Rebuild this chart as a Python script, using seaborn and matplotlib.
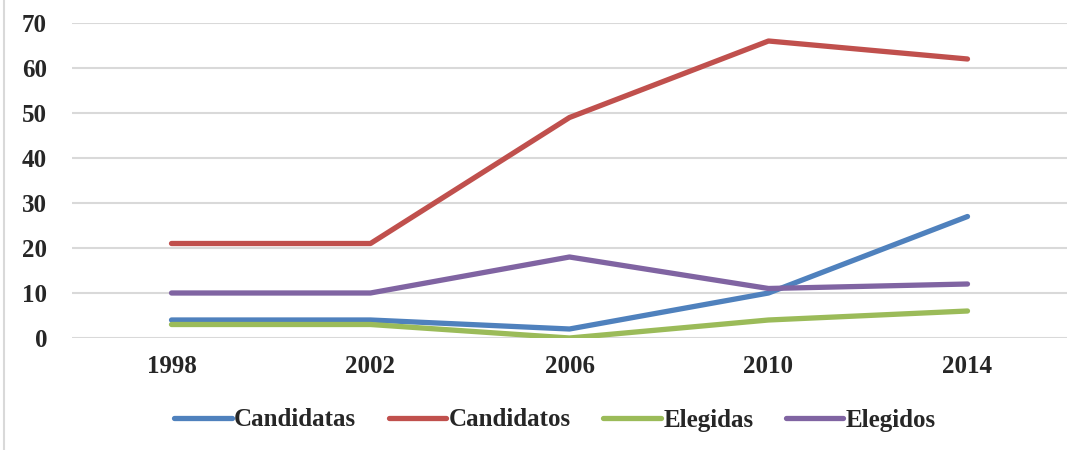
import pandas as pd
import matplotlib
matplotlib.use("Agg")
import matplotlib.pyplot as plt
from matplotlib.lines import Line2D
import seaborn as sns

years = ["1998", "2002", "2006", "2010", "2014"]
candidatas = [4, 4, 2, 10, 27]
candidatos = [21, 21, 49, 66, 62]
elegidas = [3, 3, 0, 4, 6]
elegidos = [10, 10, 18, 11, 12]

series = ["Candidatas", "Candidatos", "Elegidas", "Elegidos"]
colors = ["#4F81BD", "#C0504D", "#9BBB59", "#8064A2"]

df = pd.DataFrame({
    "year": years * 4,
    "value": candidatas + candidatos + elegidas + elegidos,
    "serie": [s for s in series for _ in years],
})

sns.set_style("white")
plt.rcParams["font.family"] = ["Liberation Serif", "DejaVu Serif"]
plt.rcParams["font.weight"] = "bold"

fig = plt.figure(figsize=(10.83, 4.5), dpi=100)
ax = fig.add_axes([72 / 1083, 1 - 338 / 450, (1067 - 72) / 1083, (338 - 23) / 450])

sns.lineplot(data=df, x="year", y="value", hue="serie", palette=colors,
             linewidth=3.8, ax=ax, solid_capstyle="round", legend=False)

ax.set_xlim(-0.5, 4.5)
ax.set_ylim(0, 70)
ax.set_yticks(range(0, 71, 10))
ax.yaxis.grid(True, color="#D9D9D9", linewidth=1.5)
ax.set_axisbelow(True)
for s in ax.spines.values():
    s.set_visible(False)
ax.set_xlabel("")
ax.set_ylabel("")
ax.tick_params(axis="y", length=0, pad=18, labelsize=18)
ax.tick_params(axis="x", length=0, pad=12, labelsize=18)
for lab in ax.get_xticklabels() + ax.get_yticklabels():
    lab.set_fontweight("bold")

handles = [Line2D([0], [0], color=c, linewidth=3.8, solid_capstyle="round") for c in colors]
fig.legend(handles, series, loc="center", bbox_to_anchor=(555 / 1083, 1 - 420 / 450),
           ncol=4, frameon=False, handlelength=2.3, handletextpad=0.1,
           columnspacing=1.3, prop={"size": 18, "weight": "bold"})

fig.add_artist(Line2D([4 / 1083, 4 / 1083], [0, 1], color="#D9D9D9", linewidth=1.5,
                      transform=fig.transFigure))

fig.savefig("out.png", dpi=100)
